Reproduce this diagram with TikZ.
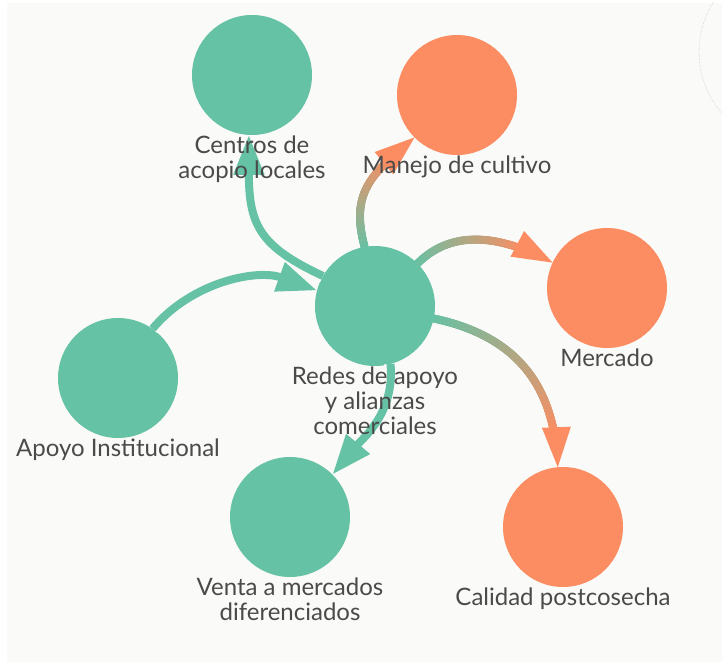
\documentclass[tikz,border=0pt]{standalone}
\usepackage{fontspec}
\setmainfont{Lato}
\usetikzlibrary{positioning}
\usetikzlibrary{arrows.meta}
\usetikzlibrary{decorations.markings}
\definecolor{verde}{HTML}{66C2A5}
\definecolor{naranja}{HTML}{FC8D62}
\definecolor{fondo}{HTML}{FAFAF8}
\definecolor{texto}{HTML}{4A4A4A}
\tikzset{
	concepto/.style={circle, minimum size=120pt, inner sep=0pt, outer sep=0pt},
	etiqueta/.style={text=texto, font=\fontsize{24}{25}\selectfont, align=center, inner sep=1pt},
	enlace/.style={line width=8pt, -{Triangle[length=40pt,width=29pt]}, preaction={draw=fondo, line width=13pt}},
	degradado/.style={postaction={decorate, decoration={markings,
		mark=between positions 0 and -30pt step 0.5pt with {
			\pgfmathsetmacro\pc{min(100,(\pgfkeysvalueof{/pgf/decoration/mark info/distance from start}/(\pgfdecoratedpathlength-30pt))*100)}
			\fill[naranja!\pc!verde] (0,0) circle (4pt);}}},
		postaction={decorate, decoration={markings,
		mark=at position 0.9999 with {\fill[naranja] (0,0) -- (-40pt,14.5pt) -- (-40pt,-14.5pt) -- cycle;}}}}
}
\newcommand{\concepto}[4] % name, x, y, colour
{
	\node[concepto, fill=#4] (#1) at (#2,#3) {};
}

\begin{document}
\begin{tikzpicture}[x=1pt, y=1pt]
	% 722 x 662 canvas
	\useasboundingbox (0,0) rectangle (722,662);
	\fill[fondo] (7,0) rectangle (722,659);
	\begin{scope}
		\clip (7,0) rectangle (722,659);
		\draw[densely dotted, black!30] (792,610) circle (93);
	\end{scope}
	
	\concepto{centros}{252}{587}{verde};
	\concepto{manejo}{457}{567}{naranja};
	\concepto{mercado}{607}{374}{naranja};
	\concepto{redes}{375}{356}{verde};
	\concepto{apoyo}{118}{284}{verde};
	\concepto{venta}{290}{145}{verde};
	\concepto{calidad}{563}{135}{naranja};
	
	% green links
	\draw[enlace, draw=verde] (redes.150) to[out=155, in=-90, out distance=70pt, in distance=90pt] (centros.267);
	\draw[enlace, draw=verde] (apoyo.55) to[out=50, in=160, looseness=0.95] (redes.165);
	\draw[enlace, draw=verde] (redes.-75) to[out=-85, in=50] (venta.45);
	
	% green to orange links
	\path[degradado] (redes.100) to[out=105, in=220, looseness=1.2] (manejo.225);
	\path[degradado] (redes.45) to[out=45, in=152] (mercado.155);
	\path[degradado] (redes.-12) to[out=-12, in=92, looseness=1.1] (calidad.95);
	
	\node[etiqueta, below=0pt of centros] (centrosl) {Centros de\\acopio locales};
	\node[etiqueta, below=0pt of manejo] (manejol) {Manejo de cultivo};
	\node[etiqueta, below=0pt of mercado] (mercadol) {Mercado};
	\node[etiqueta, below=0pt of redes] (redesl) {Redes de apoyo\\y alianzas\\comerciales};
	\node[etiqueta, below=0pt of apoyo] (apoyol) {Apoyo Institucional};
	\node[etiqueta, below=0pt of venta] (vental) {Venta a mercados\\diferenciados};
	\node[etiqueta, below=0pt of calidad] (calidadl) {Calidad postcosecha};
\end{tikzpicture}
\end{document}
